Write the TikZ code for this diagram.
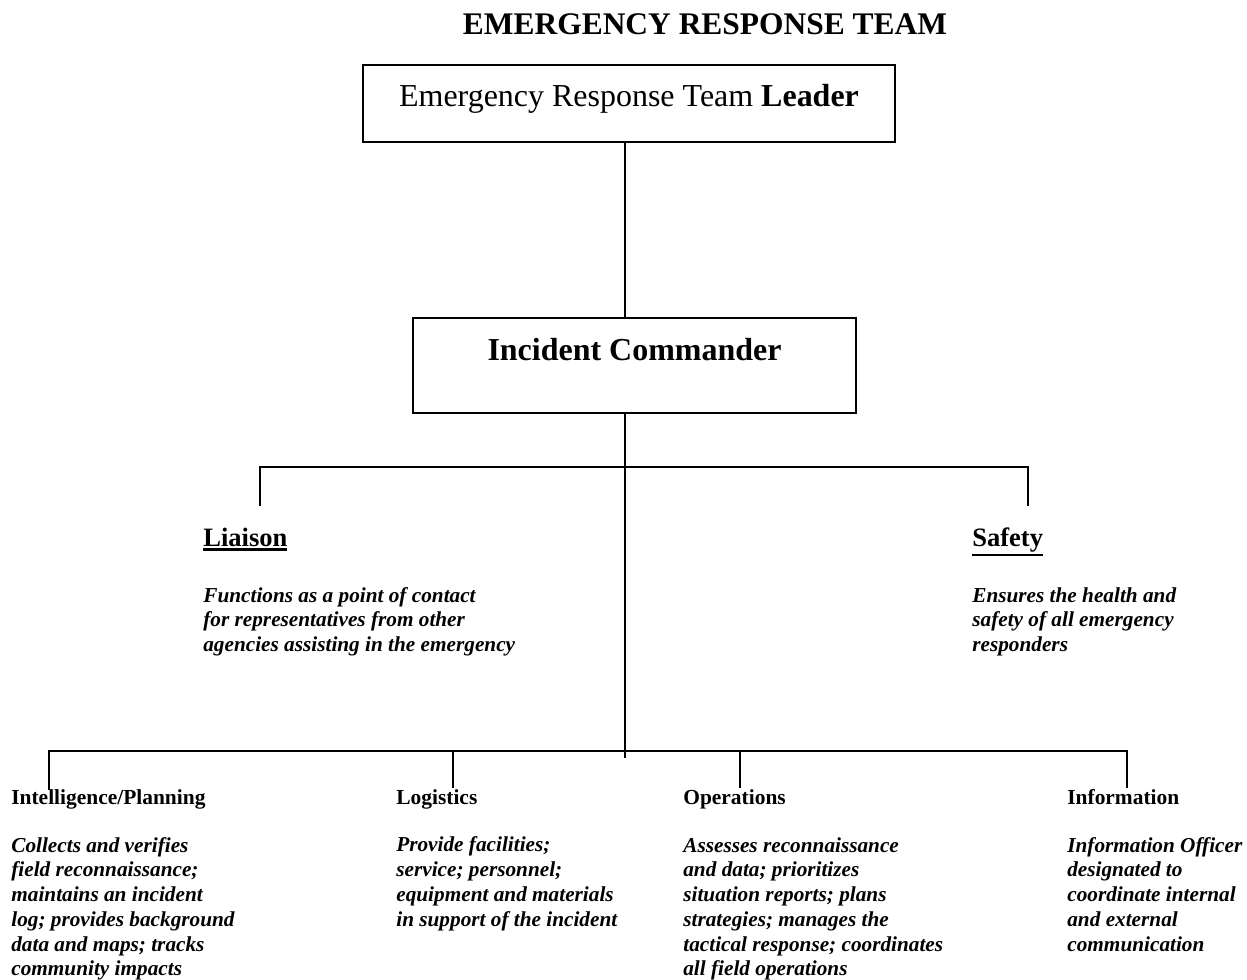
\documentclass[tikz,border=0pt]{standalone}
\usepackage{fontspec}
\setmainfont{Liberation Serif}
\newcommand{\headline}[1]{\leavevmode\vtop{\hbox{#1}\kern1.2pt\hrule height1.3pt}}
\usetikzlibrary{positioning}

\begin{document}
\begin{tikzpicture}[x=0.02cm, y=-0.02cm,
    box/.style={draw, line width=1pt, inner sep=0pt, text height=0.44cm, font=\fontsize{18.2}{22}\selectfont},
    head/.style={anchor=base west, inner sep=0pt, font=\fontsize{15.1}{18}\selectfont\bfseries},
    role/.style={anchor=base west, inner sep=0pt, font=\fontsize{12.2}{14}\selectfont\bfseries},
    duty/.style={anchor=base west, inner sep=0pt, align=left, font=\fontsize{12.1}{14.1}\selectfont\bfseries\itshape},
    link/.style={line width=1pt}
]
    \useasboundingbox (0,0) rectangle (1247,980);

    % Title
    \node[anchor=base, inner sep=0pt, font=\fontsize{17.9}{21}\selectfont\bfseries] (title) at (705,35) {EMERGENCY RESPONSE TEAM};

    % Command boxes
    \node[box, minimum width=10.64cm, minimum height=1.54cm, text depth=0.3cm] (leader) at (629,103.5) {Emergency Response Team \textbf{Leader}};
    \node[box, minimum width=8.86cm, minimum height=1.9cm, text depth=0.66cm] (ic) at (634.5,365.5) {\textbf{Incident Commander}};

    % Staff (duty nodes sit on the baseline of their last line)
    \node[head] (liaison) at (203,546) {\headline{Liaison}};
    \node[duty] (liaisondo) at (203,651.6) {Functions as a point of contact\\for representatives from other\\agencies assisting in the emergency};
    \node[head] (safety) at (972,546) {\headline{Safety}};
    \node[duty] (safetydo) at (972,651.6) {Ensures the health and\\safety of all emergency\\responders};

    % Sections
    \node[role] (intel) at (11,804) {Intelligence/Planning};
    \node[duty] (inteldo) at (11,975.9) {Collects and verifies\\field reconnaissance;\\maintains an incident\\log; provides background\\data and maps; tracks\\community impacts};
    \node[role] (logistics) at (396,804) {Logistics};
    \node[duty] (logisticsdo) at (396,926.3) {Provide facilities;\\service; personnel;\\equipment and materials\\in support of the incident};
    \node[role] (operations) at (683,804) {Operations};
    \node[duty] (operationsdo) at (683,975.9) {Assesses reconnaissance\\and data; prioritizes\\situation reports; plans\\strategies; manages the\\tactical response; coordinates\\all field operations};
    \node[role] (information) at (1067,804) {Information};
    \node[duty] (informationdo) at (1067,951.1) {Information Officer\\designated to\\coordinate internal\\and external\\communication};

    % Branch points
    \coordinate (split) at (625,467);
    \coordinate (stem) at (625,758);
    \coordinate (liaisontop) at (260,467);
    \coordinate (liaisonend) at (260,506);
    \coordinate (safetytop) at (1028,467);
    \coordinate (safetyend) at (1028,506);
    \coordinate (inteltop) at (49,751);
    \coordinate (intelend) at (49,790);
    \coordinate (logisticstop) at (453,751);
    \coordinate (logisticsend) at (453,788);
    \coordinate (operationstop) at (740,751);
    \coordinate (operationsend) at (740,788);
    \coordinate (informationtop) at (1127,751);
    \coordinate (informationend) at (1127,788);

    % Lines
    \draw[link] (leader.south -| split) -- (ic.north -| split);
    \draw[link] (ic.south -| split) -- (stem);
    \draw[link] (liaisonend) -- (liaisontop) -- (safetytop) -- (safetyend);
    \draw[link] (intelend) -- (inteltop) -- (informationtop) -- (informationend);
    \draw[link] (logisticstop) -- (logisticsend);
    \draw[link] (operationstop) -- (operationsend);
\end{tikzpicture}
\end{document}
